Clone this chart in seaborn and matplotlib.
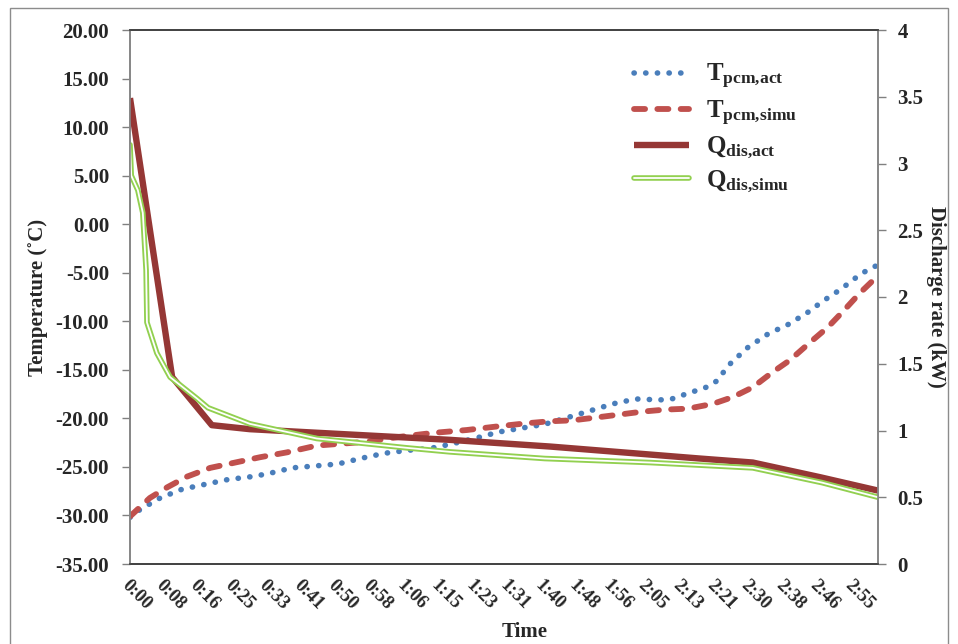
import matplotlib
matplotlib.use("Agg")
import matplotlib.pyplot as plt
import matplotlib.patheffects as pe
from matplotlib.patches import Rectangle
from matplotlib.ticker import FixedLocator, FuncFormatter
import seaborn as sns

# ---- data (time in minutes) ----
t_act = [0, 2.4, 7.3, 12.6, 18.1, 23.7, 29.5, 33.4, 39.2, 44.8, 50.3, 56.1, 61.5,
         67.0, 72.6, 78.2, 84.0, 89.3, 94.8, 100.4, 106.0, 111.5, 116.9, 122.4,
         128.2, 131.1, 133.8, 139.4, 141.8, 145.4, 149.5, 154.4, 159.4, 164.3,
         167.4, 172.0, 176.6, 179.0, 181.0]
T_pcm_act = [-30.2, -29.4, -28.2, -27.3, -26.8, -26.3, -26.0, -25.7, -25.1, -24.9,
             -24.7, -24.1, -23.6, -23.3, -23.1, -22.6, -22.0, -21.4, -21.0, -20.6,
             -19.9, -19.2, -18.5, -18.0, -18.1, -18.0, -17.6, -16.8, -16.2, -14.3,
             -12.7, -11.3, -10.3, -9.0, -8.0, -6.7, -5.2, -4.6, -4.2]

t_simu = [0, 4.8, 9.0, 13.8, 19.4, 24.9, 31.5, 38.0, 45.2, 51.5, 57.3, 65.3, 73.3,
          81.5, 89.5, 96.1, 101.6, 107.2, 113.0, 118.6, 124.1, 129.4, 135.0, 141.1,
          145.9, 150.7, 155.3, 159.7, 164.5, 168.9, 172.5, 176.6, 181.0]
T_pcm_simu = [-30.1, -28.2, -27.1, -26.0, -25.1, -24.6, -24.0, -23.5, -22.8, -22.6,
              -22.4, -21.9, -21.5, -21.2, -20.8, -20.5, -20.3, -20.2, -19.9, -19.6,
              -19.3, -19.1, -19.0, -18.5, -17.8, -16.8, -15.3, -14.0, -12.2, -10.6,
              -9.0, -7.1, -5.3]

t_q_act = [0, 10.2, 19.8, 29.0, 53.2, 77.4, 101.6, 125.8, 137.9, 150.7, 167.0, 181.0]
Q_dis_act = [3.49, 1.40, 1.04, 1.01, 0.97, 0.93, 0.88, 0.82, 0.79, 0.76, 0.65, 0.55]

t_q_simu = [0, 0.3, 1.9, 3.1, 3.9, 4.1, 6.5, 9.7, 16.2, 18.9, 29.0, 45.2, 67.0,
            77.4, 100.4, 125.8, 150.7, 167.4, 181.0]
Q_dis_simu = [3.14, 2.91, 2.80, 2.63, 2.20, 1.81, 1.58, 1.40, 1.24, 1.17, 1.05, 0.94,
              0.87, 0.84, 0.79, 0.76, 0.72, 0.61, 0.50]

time_labels = ["0:00", "0:08", "0:16", "0:25", "0:33", "0:41", "0:50", "0:58", "1:06",
               "1:15", "1:23", "1:31", "1:40", "1:48", "1:56", "2:05", "2:13", "2:21",
               "2:30", "2:38", "2:46", "2:55"]
label_step_min = 500 / 60.0   # one label every 500 s

temp_ticks = [20, 15, 10, 5, 0, -5, -10, -15, -20, -25, -30, -35]
rate_ticks = [0, 0.5, 1, 1.5, 2, 2.5, 3, 3.5, 4]

# ---- style ----
sns.set_style("white")
plt.rcParams["font.family"] = ["Liberation Serif", "DejaVu Serif"]
plt.rcParams["font.weight"] = "bold"
plt.rcParams["mathtext.fontset"] = "custom"
plt.rcParams["mathtext.rm"] = "Liberation Serif:bold"
plt.rcParams["mathtext.bf"] = "Liberation Serif:bold"
plt.rcParams["mathtext.it"] = "Liberation Serif:bold"

C_BLUE = "#4A7EBB"
C_RED = "#C0504D"
C_DRED = "#953735"
C_GREEN = "#92D050"

fig = plt.figure(figsize=(9.58, 6.44), dpi=100)
W, H = 958.0, 644.0
ax = fig.add_axes([130 / W, 1 - 564 / H, 748 / W, 534 / H])
ax2 = ax.twinx()

sns.lineplot(x=t_act, y=T_pcm_act, ax=ax, color=C_BLUE, linewidth=4.0,
             label=r"$\mathrm{T}_{\mathrm{pcm{,}act}}$")
sns.lineplot(x=t_simu, y=T_pcm_simu, ax=ax, color=C_RED, linewidth=4.2,
             label=r"$\mathrm{T}_{\mathrm{pcm{,}simu}}$")
sns.lineplot(x=t_q_act, y=Q_dis_act, ax=ax2, color=C_DRED, linewidth=4.6,
             label=r"$\mathrm{Q}_{\mathrm{dis{,}act}}$")
sns.lineplot(x=t_q_simu, y=Q_dis_simu, ax=ax2, color="white", linewidth=1.3,
             label=r"$\mathrm{Q}_{\mathrm{dis{,}simu}}$",
             path_effects=[pe.Stroke(linewidth=4.0, foreground=C_GREEN), pe.Normal()])

# line patterns
blue_line, red_line = ax.get_lines()[0], ax.get_lines()[1]
blue_line.set_dashes([0.05, 2.05])
blue_line.set_dash_capstyle("round")
red_line.set_dashes([1.9, 2.1])
red_line.set_dash_capstyle("round")
ax2.get_lines()[0].set_solid_capstyle("butt")

# axes ranges and ticks
ax.set_xlim(0, 181)
ax.set_ylim(-35, 20)
ax2.set_ylim(0, 4)

ax.xaxis.set_major_locator(FixedLocator([i * label_step_min for i in range(len(time_labels))]))
ax.set_xticklabels(time_labels, rotation=-45, ha="left", va="top",
                   rotation_mode="anchor", fontsize=13.5, fontweight="bold")
ax.tick_params(axis="x", length=0, pad=9)

ax.set_yticks(temp_ticks)
ax.yaxis.set_major_formatter(FuncFormatter(lambda v, p: f"{v:.2f}"))
ax.tick_params(axis="y", direction="out", length=6, width=1, color="#808080",
               left=True, pad=9, labelsize=15)

ax2.set_yticks(rate_ticks)
ax2.yaxis.set_major_formatter(FuncFormatter(lambda v, p: f"{v:g}"))
ax2.tick_params(axis="y", direction="out", length=6, width=1, color="#808080",
                right=True, pad=8, labelsize=15)

for a in (ax, ax2):
    for lab in a.get_yticklabels():
        lab.set_fontweight("bold")
    for side in ("left", "right"):
        a.spines[side].set_color("#868686")
        a.spines[side].set_linewidth(1.2)
    for side in ("top", "bottom"):
        a.spines[side].set_color("#404040")
        a.spines[side].set_linewidth(1.2)

ax.set_xlabel("Time", fontsize=15, fontweight="bold")
ax.xaxis.set_label_coords((525 - 130) / 748, (564 - 622) / 534)
ax.set_ylabel("Temperature (˚C)", fontsize=15, fontweight="bold")
ax.yaxis.set_label_coords((48 - 130) / 748, 0.5)
ax2.set_ylabel("Discharge rate (kW)", fontsize=15, fontweight="bold", rotation=270)
ax2.yaxis.set_label_coords((946 - 130) / 748, 0.5)

# legend gathered from both axes
h1, l1 = ax.get_legend_handles_labels()
h2, l2 = ax2.get_legend_handles_labels()
if ax.get_legend() is not None:
    ax.get_legend().remove()
leg = ax2.legend(h1 + h2, l1 + l2, loc="upper left",
                 bbox_to_anchor=(624 / W, 1 - 52 / H), bbox_transform=fig.transFigure,
                 frameon=False, fontsize=18, handlelength=2.2, handletextpad=0.7,
                 labelspacing=0.3, borderaxespad=0)

# chart-area frame
fig.patches.append(Rectangle((10 / W, -0.01), 938 / W, 1 - 8 / H + 0.01,
                             transform=fig.transFigure, fill=False,
                             edgecolor="#8c8c8c", linewidth=1.0))

fig.savefig("out.png", dpi=100)
